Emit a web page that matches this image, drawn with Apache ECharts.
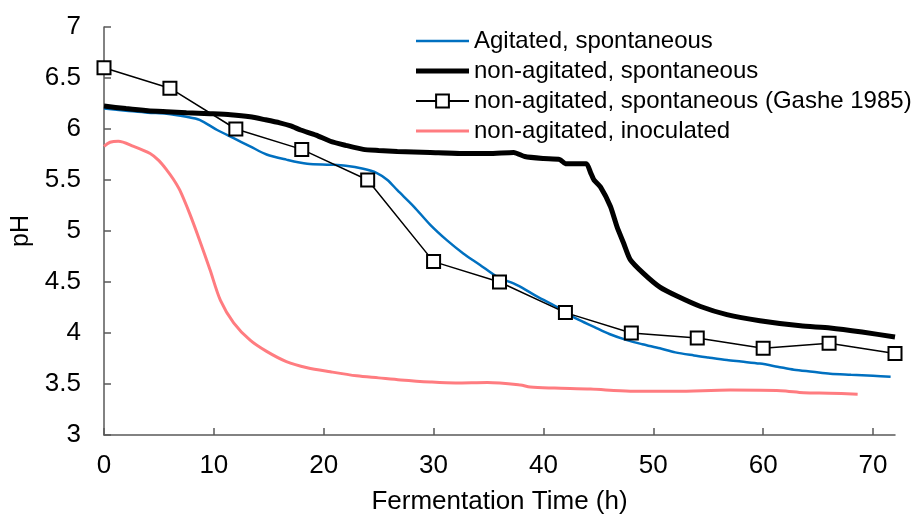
<!DOCTYPE html>
<html>
<head>
<meta charset="utf-8">
<script src="https://cdn.jsdelivr.net/npm/echarts@6/dist/echarts.min.js"></script>
<style>html,body{margin:0;padding:0;background:#fff;}#c{width:913px;height:520px;}</style>
</head>
<body>
<div id="c"></div>
<script>
// ---- data ----
var seriesNames = ['Agitated, spontaneous', 'non-agitated, spontaneous', 'non-agitated, spontaneous (Gashe 1985)', 'non-agitated, inoculated'];
var xTicks = [0, 10, 20, 30, 40, 50, 60, 70];
var yTicks = [3, 3.5, 4, 4.5, 5, 5.5, 6, 6.5, 7];

var agitT = [0, 2, 4, 5.7, 7.5, 8.7, 10.3, 11.8, 13.3, 14.8, 16.6, 18.5, 20.6, 22, 23.6, 24.8, 25.8, 26.7, 28.2, 29.7, 31.2, 32.7, 34.2, 35.8, 37.6, 39.4, 41.5, 43, 44.6, 46, 47.6, 49, 50.6, 52, 53.7, 55, 56.7, 58, 59.7, 61.3, 62.8, 64.5, 66.1, 68, 70, 71.6];
var agitV = [6.20, 6.18, 6.16, 6.15, 6.12, 6.09, 5.99, 5.91, 5.83, 5.75, 5.70, 5.66, 5.65, 5.64, 5.61, 5.57, 5.50, 5.40, 5.24, 5.06, 4.91, 4.78, 4.67, 4.55, 4.47, 4.36, 4.24, 4.14, 4.06, 3.99, 3.93, 3.89, 3.85, 3.81, 3.78, 3.76, 3.735, 3.72, 3.70, 3.67, 3.64, 3.62, 3.60, 3.59, 3.58, 3.57];

var nonAgT = [0, 2, 4, 5.7, 7.5, 9.65, 11.5, 13.3, 14.7, 16, 17, 17.9, 19.3, 20.6, 22, 23.6, 25, 26.7, 29.7, 32.7, 35, 37.3, 38.3, 40, 41.5, 42, 43.9, 44.3, 44.6, 45.2, 46.1, 46.7, 47.3, 47.9, 49.1, 50.6, 52.2, 54.3, 56.7, 59.7, 63.4, 66.1, 69, 72];
var nonAgV = [6.225, 6.20, 6.18, 6.17, 6.16, 6.15, 6.14, 6.12, 6.09, 6.06, 6.03, 5.99, 5.94, 5.88, 5.84, 5.80, 5.79, 5.78, 5.77, 5.76, 5.76, 5.77, 5.73, 5.71, 5.70, 5.66, 5.66, 5.57, 5.50, 5.43, 5.24, 5.04, 4.88, 4.72, 4.585, 4.45, 4.36, 4.26, 4.18, 4.12, 4.07, 4.05, 4.01, 3.96];

var gasheT = [0, 6, 12, 18, 24, 30, 36, 42, 48, 54, 60, 66, 72];
var gasheV = [6.6, 6.4, 6.0, 5.8, 5.5, 4.7, 4.5, 4.2, 4.0, 3.95, 3.85, 3.9, 3.8];

var inocT = [0, 0.55, 1.3, 2.7, 4.2, 5.0, 5.7, 6.3, 6.9, 7.8, 8.7, 9.65, 10.6, 11.8, 13.3, 14.8, 16.6, 18.5, 20.6, 23, 25, 27, 29.7, 32, 34.9, 37.9, 38.8, 41, 44.3, 47.9, 52, 57, 61.6, 63.7, 66, 68.6];
var inocV = [5.83, 5.87, 5.88, 5.83, 5.76, 5.69, 5.60, 5.51, 5.40, 5.17, 4.91, 4.62, 4.32, 4.10, 3.93, 3.82, 3.72, 3.66, 3.62, 3.58, 3.56, 3.54, 3.52, 3.51, 3.515, 3.49, 3.47, 3.46, 3.45, 3.43, 3.43, 3.44, 3.435, 3.415, 3.41, 3.40];

function pairs(t, v) { return t.map(function (x, i) { return [x, v[i]]; }); }

var FONT = '"Liberation Sans", Arial, sans-serif';
var axisColor = '#595959';
var chart = echarts.init(document.getElementById('c'));
chart.setOption({
  animation: false,
  backgroundColor: '#fff',
  textStyle: { fontFamily: FONT },
  grid: { left: 104, right: 18, top: 27, bottom: 85, containLabel: false },
  legend: {
    orient: 'vertical', left: 415, top: 29, padding: 0,
    itemWidth: 53, itemHeight: 16, itemGap: 6,
    symbolKeepAspect: true,
    textStyle: { fontFamily: FONT, fontSize: 24, color: '#000' },
    data: [
      { name: seriesNames[0], icon: 'path://M0,0L106,0L106,5L0,5Z', itemStyle: { color: '#0070C0' } },
      { name: seriesNames[1], icon: 'path://M0,0L53,0L53,5L0,5Z', itemStyle: { color: '#000' } },
      { name: seriesNames[2] },
      { name: seriesNames[3], icon: 'path://M0,0L53,0L53,3L0,3Z', itemStyle: { color: '#FF7C80' } }
    ]
  },
  xAxis: {
    type: 'value', min: 0, max: 72, interval: 10,
    name: 'Fermentation Time (h)', nameLocation: 'middle', nameGap: 54,
    nameTextStyle: { fontFamily: FONT, fontSize: 26, color: '#000' },
    axisLine: { show: true, lineStyle: { color: axisColor, width: 1.5 } },
    axisTick: { show: true, inside: true, length: 7, lineStyle: { color: axisColor, width: 1.5 }, customValues: xTicks },
    axisLabel: { fontFamily: FONT, fontSize: 26, color: '#000', margin: 18, customValues: xTicks },
    splitLine: { show: false }
  },
  yAxis: {
    type: 'value', min: 3, max: 7, interval: 0.5,
    name: 'pH', nameLocation: 'middle', nameGap: 66,
    nameTextStyle: { fontFamily: FONT, fontSize: 25, color: '#000' },
    axisLine: { show: true, lineStyle: { color: axisColor, width: 1.5 } },
    axisTick: { show: true, inside: true, length: 7, lineStyle: { color: axisColor, width: 1.5 }, customValues: yTicks },
    axisLabel: { fontFamily: FONT, fontSize: 26, color: '#000', margin: 23, customValues: yTicks },
    splitLine: { show: false }
  },
  series: [
    {
      name: seriesNames[0], type: 'line', data: pairs(agitT, agitV),
      symbol: 'none', smooth: 0.3, color: '#0070C0',
      lineStyle: { color: '#0070C0', width: 2.5 }, z: 2
    },
    {
      name: seriesNames[1], type: 'line', data: pairs(nonAgT, nonAgV),
      symbol: 'none', smooth: 0.2, color: '#000',
      lineStyle: { color: '#000', width: 5 }, z: 3
    },
    {
      name: seriesNames[2], type: 'line', data: pairs(gasheT, gasheV),
      symbol: 'emptyRect', symbolSize: 13, showAllSymbol: true, color: '#000',
      lineStyle: { color: '#000', width: 1.5 },
      itemStyle: { color: '#000', borderColor: '#000', borderWidth: 2 }, z: 4
    },
    {
      name: seriesNames[3], type: 'line', data: pairs(inocT, inocV),
      symbol: 'none', smooth: 0.3, color: '#FF7C80',
      lineStyle: { color: '#FF7C80', width: 3 }, z: 1
    }
  ]
});
</script>
</body>
</html>
